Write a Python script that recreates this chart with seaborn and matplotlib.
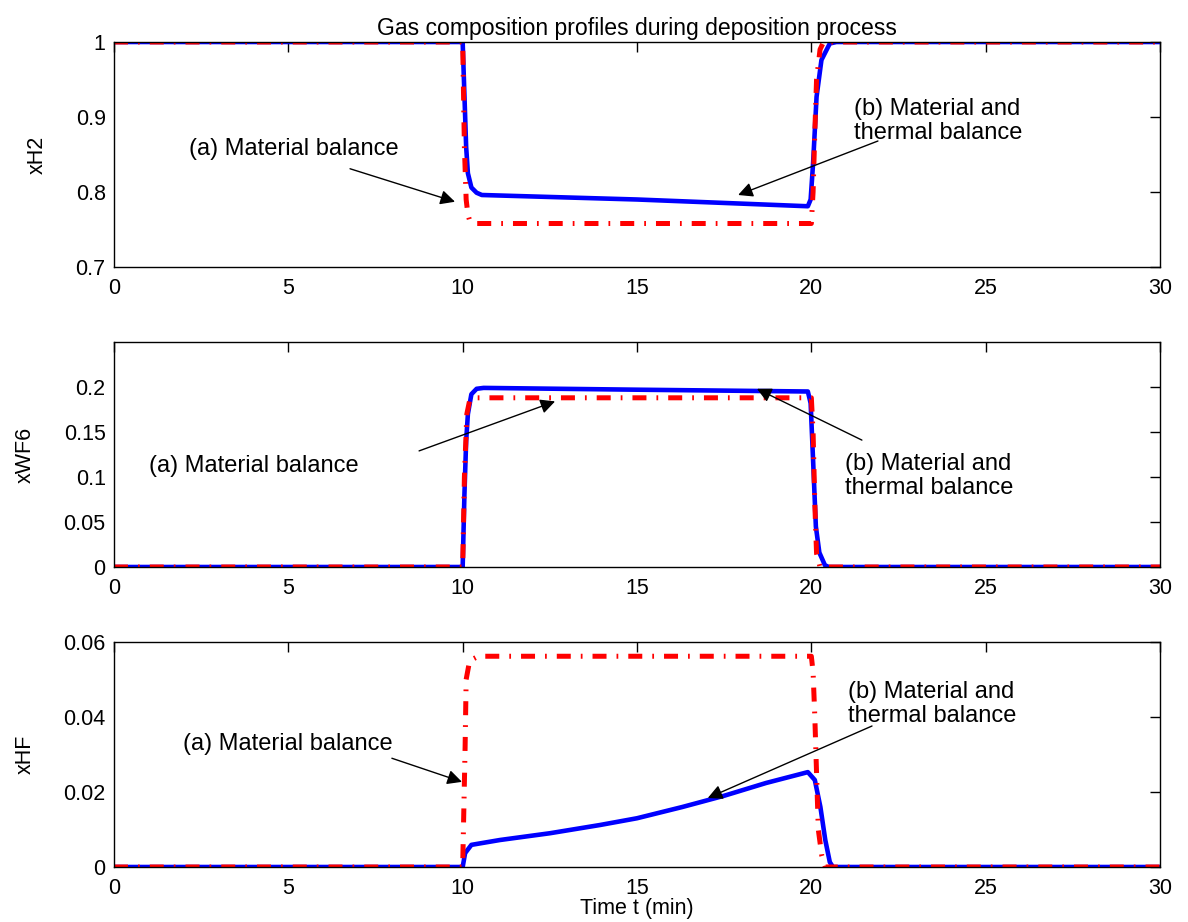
import numpy as np
import pandas as pd
import matplotlib
matplotlib.use("Agg")
import matplotlib.pyplot as plt
import seaborn as sns
from matplotlib.ticker import FixedLocator, FuncFormatter

# ---------------- data ----------------
title = "Gas composition profiles during deposition process"
xlabel = "Time t (min)"
ylabels = ["xH2", "xWF6", "xHF"]
label_a = "(a) Material balance"
label_b = "(b) Material and\nthermal balance"

# xH2
t_h2_a = [0, 10.0, 10.05, 10.1, 10.15, 10.2, 10.3, 20.0, 20.05, 20.1, 20.15, 20.25, 20.35, 30]
h2_a = [1.0, 1.0, 0.86, 0.79, 0.77, 0.762, 0.758, 0.758, 0.80, 0.88, 0.95, 0.99, 1.0, 1.0]
t_h2_b = [0, 10.0, 10.05, 10.1, 10.15, 10.25, 10.4, 10.55, 15.0, 19.9, 19.98, 20.05, 20.15, 20.29, 20.53, 20.72, 30]
h2_b = [1.0, 1.0, 0.93, 0.86, 0.825, 0.806, 0.799, 0.796, 0.790, 0.781, 0.790, 0.838, 0.927, 0.976, 0.998, 1.0, 1.0]

# xWF6
t_wf6_a = [0, 10.0, 10.05, 10.12, 10.2, 10.3, 20.0, 20.05, 20.1, 20.15, 20.25, 30]
wf6_a = [0.0, 0.0, 0.10, 0.17, 0.185, 0.188, 0.188, 0.15, 0.07, 0.015, 0.0, 0.0]
t_wf6_b = [0, 10.0, 10.05, 10.1, 10.15, 10.25, 10.4, 10.6, 15.0, 19.9, 19.98, 20.05, 20.13, 20.23, 20.39, 20.5, 30]
wf6_b = [0.0, 0.0, 0.08, 0.14, 0.17, 0.192, 0.198, 0.199, 0.197, 0.195, 0.182, 0.119, 0.045, 0.016, 0.002, 0.0, 0.0]

# xHF
t_hf_a = [0, 10.0, 10.07, 10.1, 10.2, 10.45, 20.0, 20.05, 20.1, 20.15, 20.2, 20.3, 20.4, 30]
hf_a = [0.0, 0.0, 0.032, 0.050, 0.055, 0.0562, 0.0562, 0.052, 0.040, 0.025, 0.010, 0.003, 0.0, 0.0]
t_hf_b = [0, 10.0, 10.07, 10.25, 10.5, 11.07, 12.5, 13.94, 15.0, 16.3, 17.5, 18.7, 19.9, 20.1, 20.26, 20.4, 20.53, 20.62, 30]
hf_b = [0.0, 0.0, 0.0037, 0.0059, 0.0063, 0.0072, 0.009, 0.0112, 0.013, 0.016, 0.019, 0.0224, 0.0253, 0.0232, 0.016, 0.0072, 0.0013, 0.0, 0.0]

ylims = [(0.7, 1.0), (0.0, 0.25), (0.0, 0.06)]
yticks = [[0.7, 0.8, 0.9, 1.0], [0, 0.05, 0.1, 0.15, 0.2], [0, 0.02, 0.04, 0.06]]
xticks = [0, 5, 10, 15, 20, 25, 30]

# annotation positions (data coords): text anchor, arrow tail, arrow head
ann_a = [((5.16, 0.857), (6.77, 0.831), (9.78, 0.787)),
         ((4.01, 0.112), (8.75, 0.129), (12.65, 0.184)),
         ((4.99, 0.0328), (7.97, 0.029), (9.98, 0.0227))]
ann_b = [((21.22, 0.895), (21.91, 0.868), (17.9, 0.796)),
         ((20.96, 0.101), (21.45, 0.141), (18.44, 0.198)),
         ((21.05, 0.0435), (21.74, 0.0376), (17.03, 0.0184))]

series = [(t_h2_a, h2_a, t_h2_b, h2_b), (t_wf6_a, wf6_a, t_wf6_b, wf6_b), (t_hf_a, hf_a, t_hf_b, hf_b)]

# ---------------- styling ----------------
sns.set_style("white")
plt.rcParams["font.family"] = ["Liberation Sans", "DejaVu Sans"]
plt.rcParams["text.color"] = "black"
plt.rcParams["axes.labelcolor"] = "black"

fig = plt.figure(figsize=(11.88, 9.22), dpi=100)
W, H = 1188.0, 922.0
left, right = 114 / W, 1160 / W
tops = [42, 342, 642]
bottoms = [267, 567, 867]

fmt = FuncFormatter(lambda v, p: ("%g" % round(v, 4)))

for i in range(3):
    ax = fig.add_axes([left, 1 - bottoms[i] / H, right - left, (bottoms[i] - tops[i]) / H])
    ta, ya, tb, yb = series[i]
    dfb = pd.DataFrame({"t": tb, "y": yb})
    dfa = pd.DataFrame({"t": ta, "y": ya})
    sns.lineplot(data=dfb, x="t", y="y", ax=ax, color="#0000ff", linewidth=3.3,
                 estimator=None, errorbar=None, sort=False)
    sns.lineplot(data=dfa, x="t", y="y", ax=ax, color="#ff0000", linewidth=3.6,
                 estimator=None, errorbar=None, sort=False)
    ax.lines[-1].set_dashes([2.8, 2.0, 0.35, 2.0])
    ax.set_xlim(0, 30)
    ax.set_ylim(*ylims[i])
    ax.xaxis.set_major_locator(FixedLocator(xticks))
    ax.yaxis.set_major_locator(FixedLocator(yticks[i]))
    ax.xaxis.set_major_formatter(fmt)
    ax.yaxis.set_major_formatter(fmt)
    ax.tick_params(direction="in", length=7, width=1, top=True, right=True,
                   labelsize=15.5, colors="black")
    ax.tick_params(axis="x", pad=8)
    ax.tick_params(axis="y", pad=6)
    for s in ax.spines.values():
        s.set_linewidth(1.0)
        s.set_color("black")
        s.set_visible(True)
    ax.set_ylabel(ylabels[i], fontsize=15.5, labelpad=20, color="black")
    ax.set_xlabel("")

    # annotations
    (txa, tla, hda) = ann_a[i]
    ax.text(txa[0], txa[1], label_a, fontsize=17, ha="center", va="center", color="black")
    ax.annotate("", xy=hda, xytext=tla,
                arrowprops=dict(arrowstyle="-|>", color="black", lw=1.0,
                                mutation_scale=22, shrinkA=0, shrinkB=0))
    (txb, tlb, hdb) = ann_b[i]
    ax.text(txb[0], txb[1], label_b, fontsize=17, ha="left", va="center",
            multialignment="left", linespacing=1.1, color="black")
    ax.annotate("", xy=hdb, xytext=tlb,
                arrowprops=dict(arrowstyle="-|>", color="black", lw=1.0,
                                mutation_scale=22, shrinkA=0, shrinkB=0))
    if i == 0:
        ax.set_title(title, fontsize=16.6, pad=5, color="black")
    if i == 2:
        ax.set_xlabel(xlabel, fontsize=15.5, labelpad=-1, color="black")

fig.savefig("out.png", dpi=100, facecolor="white")
